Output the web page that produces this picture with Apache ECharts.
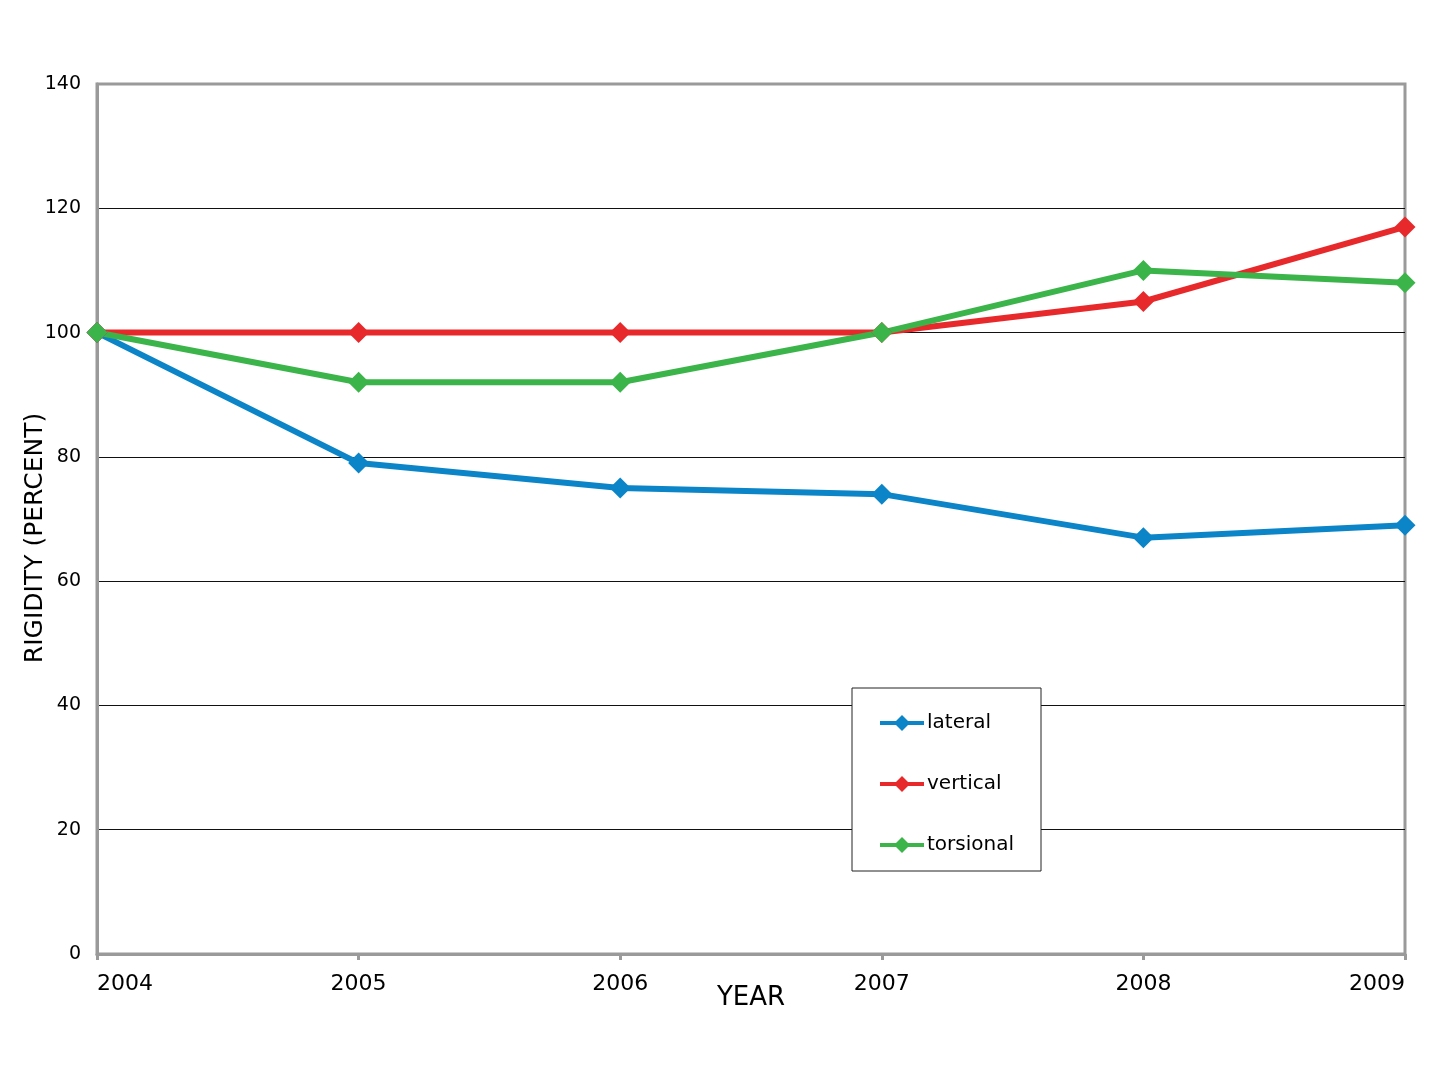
<!DOCTYPE html>
<html>
<head>
<meta charset="utf-8">
<script src="https://cdn.jsdelivr.net/npm/echarts@6/dist/echarts.min.js"></script>
<style>html,body{margin:0;padding:0;background:#fff}#c{width:1440px;height:1080px}</style>
</head>
<body>
<div id="c"></div>
<script>
const years = ['2004', '2005', '2006', '2007', '2008', '2009'];
const lateral = [100, 79, 75, 74, 67, 69];
const vertical = [100, 100, 100, 100, 105, 117];
const torsional = [100, 92, 92, 100, 110, 108];

const FONT = '"DejaVu Sans", sans-serif';
const chart = echarts.init(document.getElementById('c'));
function mk(name, data, color) {
  return {
    name: name, type: 'line', data: data,
    symbol: 'diamond', symbolSize: 21,
    lineStyle: { color: color, width: 6 },
    itemStyle: { color: color },
    emphasis: { disabled: true },
    animation: false
  };
}
chart.setOption({
  backgroundColor: '#fff',
  textStyle: { fontFamily: FONT },
  grid: { left: 97, right: 35, top: 84, bottom: 126, show: true, borderColor: '#9a9a9a', borderWidth: 3, backgroundColor: 'transparent' },
  xAxis: {
    type: 'category', data: years, boundaryGap: false,
    name: 'YEAR', nameLocation: 'middle', nameGap: 44, nameMoveOverlap: false,
    nameTextStyle: { color: '#000', fontSize: 26, fontFamily: FONT, verticalAlign: 'middle' },
    axisLine: { lineStyle: { color: '#9a9a9a', width: 3 } },
    axisTick: { show: true, length: 6, lineStyle: { color: '#9a9a9a', width: 3 } },
    axisLabel: { color: '#000', fontSize: 22, margin: 19, fontFamily: FONT, alignMinLabel: 'left', alignMaxLabel: 'right' },
    splitLine: { show: false }
  },
  yAxis: {
    type: 'value', min: 0, max: 140, interval: 20,
    name: 'RIGIDITY (PERCENT)', nameLocation: 'middle', nameGap: 62, nameRotate: 90, nameMoveOverlap: false,
    nameTextStyle: { color: '#000', fontSize: 25, fontFamily: FONT, verticalAlign: 'middle', padding: [0, 38, 0, 0] },
    axisLine: { show: true, lineStyle: { color: '#9a9a9a', width: 3 } },
    axisTick: { show: false },
    axisLabel: { color: '#000', fontSize: 19, margin: 16, fontFamily: FONT },
    splitLine: { show: true, lineStyle: { color: ['#9a9a9a', '#111', '#111', '#111', '#111', '#111', '#111', '#9a9a9a'], width: 1 } }
  },
  legend: {
    orient: 'vertical', left: 852, top: 688,
    data: ['lateral', 'vertical', 'torsional'],
    backgroundColor: '#fff', borderColor: '#222', borderWidth: 1,
    padding: [25, 27, 16, 26],
    itemWidth: 44, itemHeight: 20, itemGap: 41,
    textStyle: { color: '#000', fontSize: 20, lineHeight: 20, fontFamily: FONT, padding: [0, 0, 0, -2] },
    lineStyle: { width: 4 },
    selectedMode: false
  },
  series: [
    mk('lateral', lateral, '#0b85c8'),
    mk('vertical', vertical, '#e8292b'),
    mk('torsional', torsional, '#3bb44a')
  ]
});
</script>
</body>
</html>
